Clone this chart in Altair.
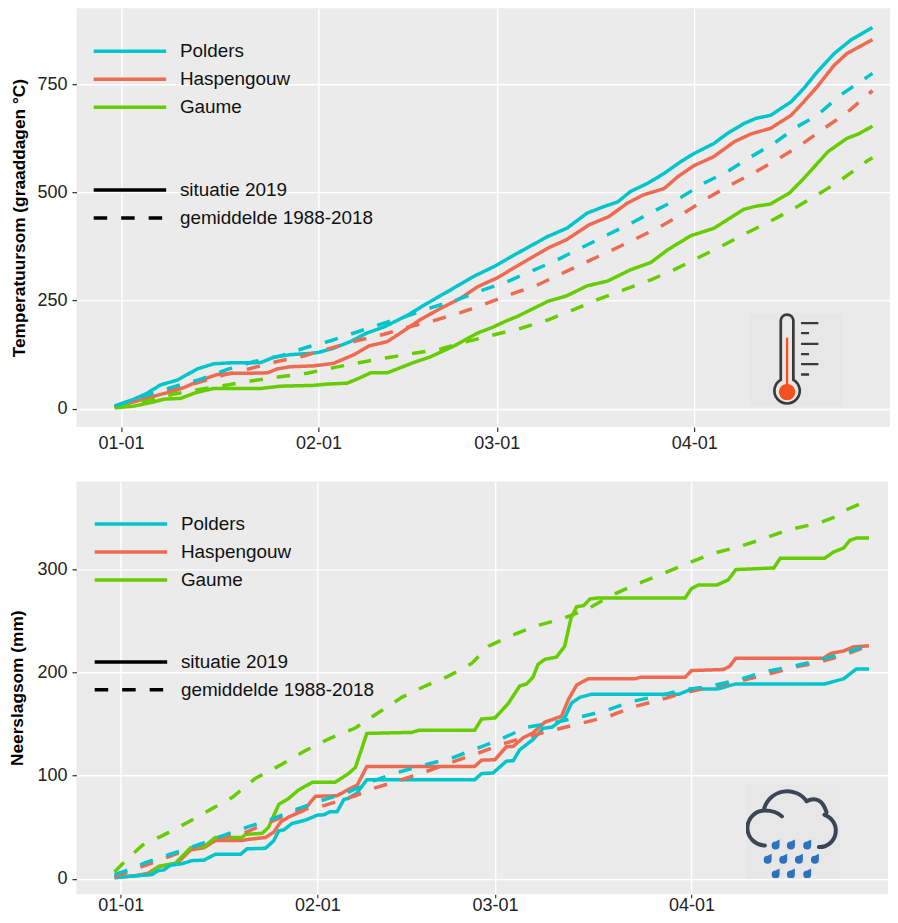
import base64
import altair as alt
import pandas as pd

REGIONS = ["Polders", "Haspengouw", "Gaume"]
COLORS = ["#00C5CD", "#EE6A50", "#66CD00"]
KINDS = ["situatie 2019", "gemiddelde 1988-2018"]

# ---- Temperatuursom: day offset from 1 January, value in graaddagen
T_POL_D = [-1, 2, 4, 6.2, 8.8, 12, 14.6, 17.2, 19.8, 22, 24, 26.6, 29.8, 31, 33.4, 36, 38.6, 41.3, 45, 48, 51.7, 55.4, 58.5, 62.2, 67, 70, 73.2, 75.8, 78, 80, 82.7, 85.3, 87.9, 90, 93.1, 95.2, 97.8, 99.7, 102, 105.2, 107.2, 109.3, 112, 114.6, 118]
T_POL_V = [6, 22, 35, 55, 66, 92, 104, 106, 106, 107, 119, 125, 128, 130, 140, 155, 175, 189, 216, 243, 274, 306, 328, 359, 398, 417, 452, 467, 478, 502, 521, 544, 571, 590, 613, 636, 659, 671, 678, 709, 740, 778, 821, 852, 881]
T_HAS_D = [-1, 2, 5.2, 7.8, 9.9, 12.5, 15.1, 17.7, 20.3, 23, 24.5, 26.6, 30.3, 33.4, 36.6, 38.9, 41.8, 44.4, 47, 50.2, 53.3, 56, 59, 62, 67, 70, 73.5, 76.6, 79.5, 82, 85.3, 87.4, 90, 93, 96.3, 98.9, 102, 105.2, 107.2, 109.3, 112, 114, 118]
T_HAS_V = [3, 16, 29, 39, 49, 66, 79, 82, 82, 83, 92, 97, 99, 105, 125, 145, 155, 180, 206, 232, 255, 282, 302, 328, 371, 391, 425, 444, 475, 494, 509, 536, 562, 582, 617, 635, 648, 678, 709, 744, 794, 821, 853]
T_GAU_D = [-1, 2, 4.6, 6.7, 9.4, 11.7, 14.6, 17.7, 22, 25, 30.3, 32.4, 35.5, 37.6, 39.2, 41.8, 46, 48.6, 52.3, 56, 58.5, 60.2, 62.2, 67, 70, 73.2, 76.4, 80, 83.2, 85.8, 89.5, 93.1, 97.8, 99.7, 102, 105, 107.2, 111, 114, 115.8, 118]
T_GAU_V = [2, 6, 14, 22, 24, 37, 47, 47, 47, 52, 54, 57, 59, 72, 83, 83, 107, 120, 145, 175, 189, 201, 213, 248, 261, 284, 295, 321, 338, 367, 400, 417, 461, 468, 473, 499, 532, 594, 625, 635, 653]
T_POL_AVG_D = [-1, 3.6, 8.3, 12.5, 16.7, 20.9, 25, 29.2, 32.9, 36.6, 40.7, 44.4, 48.6, 52.8, 57, 60.7, 64.3, 68.5, 72.7, 76.4, 80, 84, 87.9, 91.5, 95.2, 98.9, 102.5, 106.2, 109.3, 113, 117.2, 118]
T_POL_AVG_V = [6, 29, 51, 68, 91, 109, 122, 142, 157, 175, 195, 212, 233, 252, 275, 294, 317, 344, 375, 402, 428, 459, 488, 521, 548, 582, 613, 652, 678, 725, 767, 775]
T_HAS_AVG_D = [-1, 3.6, 8.3, 12.5, 16.1, 20.3, 24.5, 28.7, 32.9, 37, 41.3, 45.4, 49, 53.3, 57.5, 61.7, 65.4, 69.3, 73.2, 76.9, 81, 84.7, 88.4, 92, 95.7, 99.7, 103.3, 106.7, 110.4, 113.8, 118]
T_HAS_AVG_V = [4, 24, 45, 62, 78, 93, 109, 122, 140, 157, 172, 190, 203, 222, 244, 267, 286, 313, 340, 365, 394, 421, 452, 486, 517, 548, 578, 609, 648, 682, 735]
T_GAU_AVG_D = [-1, 4.1, 8.3, 12.5, 16.7, 20.9, 25, 29.2, 33.4, 37.6, 41.8, 46, 50.2, 54.3, 58.6, 62.8, 67, 70.9, 74.8, 79, 83.2, 86.8, 90.5, 94.2, 98.1, 101.8, 105.7, 109.3, 112.7, 117.2, 118]
T_GAU_AVG_V = [3, 18, 34, 45, 55, 65, 74, 82, 95, 107, 118, 128, 138, 155, 171, 186, 205, 228, 252, 275, 298, 321, 348, 375, 405, 432, 463, 494, 525, 573, 580]

# ---- Neerslagsom: day offset from 1 January, value in mm
N_POL_D = [-1, 1.8, 4.9, 6, 6.8, 7.8, 9.7, 11.2, 13.1, 14.9, 18.9, 19.9, 22.8, 24.1, 24.9, 25.7, 27, 29.1, 31, 32, 33, 34.1, 35.2, 35.9, 37.2, 38.8, 55.8, 56.9, 58.7, 60.8, 61.9, 62.9, 65, 66.6, 68, 70, 71.1, 72.4, 74.2, 88, 90, 94, 97, 111, 114, 116, 118]
N_POL_V = [1, 2.6, 4, 8, 8.5, 13, 14.6, 17.5, 18, 23.7, 23.7, 29, 29.5, 36.7, 46.4, 47.4, 53.6, 56.8, 61.7, 62, 65, 65, 77, 78, 83, 96, 96, 102, 102.6, 114, 114.6, 125, 135, 146, 147, 156, 170.6, 176, 179, 179, 184, 184, 189, 189, 194, 203.5, 203.5]
N_HAS_D = [-1, 1.8, 4.2, 6, 8.9, 11, 13.1, 14.9, 19.1, 19.9, 22.8, 24.1, 25.2, 26.5, 28.8, 30.7, 34.1, 35.7, 37.3, 38.8, 55.8, 56.9, 59, 60.8, 61.9, 63.5, 65, 66.9, 69.5, 70.6, 71.9, 73.7, 75.3, 81, 82, 89, 90, 95, 96, 97, 110.8, 112, 114, 115.5, 118]
N_HAS_V = [1, 2.6, 5, 11.7, 15, 28, 30, 37, 37, 38, 40, 45, 55, 60, 66, 80, 80.5, 86, 91, 109, 109, 115, 115.5, 128, 128.5, 137, 141.5, 152, 157.6, 174, 188, 194, 194, 194, 195.5, 195.5, 202, 203, 206, 214, 214, 218.7, 221, 225, 226]
N_GAU_D = [-1, 1.8, 4.4, 6, 8.6, 11, 13.1, 14.9, 19.1, 19.7, 22.3, 23.3, 24.9, 26.5, 28, 30.2, 33.8, 35.9, 37, 38.8, 45.9, 47, 55.8, 56.9, 59, 61.1, 62.9, 64, 65, 65.8, 66.9, 68.7, 70, 71, 71.9, 73, 74, 75.3, 89, 90, 91.1, 94, 95.8, 97, 103, 104, 111, 112.4, 114, 115, 116, 118]
N_GAU_V = [2, 2.5, 4, 12, 15, 30, 31, 40, 40, 43, 44, 50, 72, 78, 86, 93.5, 93.5, 102, 108, 141, 142, 144, 144, 155, 156, 170, 187, 189, 195.5, 208, 213, 215, 225.5, 253, 264, 265, 271.5, 272.5, 272.5, 281.6, 285, 285, 290, 300, 301.6, 311, 311, 317, 321, 328.4, 330.6, 330.6]
N_POL_AVG_D = [-1, 0.7, 3.9, 7.8, 11.8, 16, 19.9, 23.9, 28, 31.7, 35.9, 39, 43, 48, 52.2, 56.4, 60, 64, 68, 72.5, 76.4, 80.6, 84.5, 88.5, 92.7, 97.4, 101.6, 106, 110, 114, 118]
N_POL_AVG_V = [4, 7.5, 15.6, 23.7, 32, 41.6, 50, 58, 68, 76, 84, 93, 102, 110.7, 117, 127, 135.6, 147, 151, 157, 163, 172, 177, 183, 186.5, 193, 201, 206, 212, 218.7, 227]
N_HAS_AVG_D = [-1, 3.9, 7.8, 11.8, 16, 19.7, 23.3, 28, 32.3, 37, 40, 44.3, 48.2, 52.2, 56.4, 60.3, 64.3, 68.5, 72.7, 76.9, 81, 85, 89, 93.2, 97, 101.6, 106, 110, 114, 118]
N_HAS_AVG_V = [2, 13, 22, 31, 40, 45, 54.5, 66, 71.4, 80.5, 88, 96, 104, 113, 122, 131, 138, 144.6, 151, 157.4, 167, 173.5, 180.6, 186.5, 191, 197.7, 205, 209.7, 217, 226]
N_GAU_AVG_D = [-1, 0.2, 2.6, 3.4, 6.5, 10.5, 14.4, 17.6, 21.2, 25.4, 29, 32.8, 36.9, 40.6, 44.3, 48, 51.6, 55.3, 58, 61.6, 65.6, 69.5, 73.7, 77.4, 81, 85.3, 89, 93, 97.4, 101.4, 105.3, 110, 112.6, 114.2, 118]
N_GAU_AVG_V = [6.5, 14, 28, 32.5, 41.6, 54.5, 68, 79, 97.4, 111, 124, 135.7, 146, 161, 176, 187, 196.4, 208.7, 225.6, 236, 245.6, 252, 262, 275, 285, 295.5, 305, 315, 322, 330, 338.7, 345, 351, 357.4, 367.5]


def stamp(d):
    return (pd.Timestamp("2019-01-01") + pd.Timedelta(days=d)).strftime("%Y-%m-%dT%H:%M:%SZ")


def frame(rows):
    out = []
    for region, kind, days, vals in rows:
        for d, v in zip(days, vals):
            out.append({"datum": stamp(d), "waarde": v, "regio": region, "soort": kind})
    return pd.DataFrame(out)


temp = frame([
    ("Haspengouw", KINDS[0], T_HAS_D, T_HAS_V),
    ("Gaume", KINDS[0], T_GAU_D, T_GAU_V),
    ("Polders", KINDS[0], T_POL_D, T_POL_V),
    ("Haspengouw", KINDS[1], T_HAS_AVG_D, T_HAS_AVG_V),
    ("Gaume", KINDS[1], T_GAU_AVG_D, T_GAU_AVG_V),
    ("Polders", KINDS[1], T_POL_AVG_D, T_POL_AVG_V),
])
rain = frame([
    ("Haspengouw", KINDS[0], N_HAS_D, N_HAS_V),
    ("Gaume", KINDS[0], N_GAU_D, N_GAU_V),
    ("Polders", KINDS[0], N_POL_D, N_POL_V),
    ("Haspengouw", KINDS[1], N_HAS_AVG_D, N_HAS_AVG_V),
    ("Gaume", KINDS[1], N_GAU_AVG_D, N_GAU_AVG_V),
    ("Polders", KINDS[1], N_POL_AVG_D, N_POL_AVG_V),
])


def uri(body):
    svg = f'<svg xmlns="http://www.w3.org/2000/svg" viewBox="0 0 94 94" width="94" height="94">{body}</svg>'
    return "data:image/svg+xml;base64," + base64.b64encode(svg.encode()).decode()


tick_y = [(10.3, 69.3), (20.3, 60), (31, 69.3), (41.3, 60), (51.3, 69.3), (61.7, 60)]
thermo = '<rect width="94" height="94" fill="#E7E7E7"/>'
thermo += '<path d="M31.7 67V8A6.3 6.3 0 0 1 44.3 8V67A12.7 12.7 0 1 1 31.7 67Z" fill="none" stroke="#3A3A3A" stroke-width="2.7"/>'
thermo += '<path d="M38 25V75" stroke="#F4511E" stroke-width="2.3"/><circle cx="38" cy="79.3" r="8.2" fill="#F4511E"/>'
for y, xe in tick_y:
    thermo += f'<path d="M52 {y}H{xe}" stroke="#3A3A3A" stroke-width="2.3"/>'

cloud = '<rect width="94" height="94" fill="#E7E7E7"/>'
cloud += ('<g fill="none" stroke="#3A4654" stroke-width="4" stroke-linecap="round">'
          '<path d="M19 61A17.5 17.5 0 0 1 19 26Q30 26 36 32"/>'
          '<path d="M18.3 24A24 24 0 0 1 60.7 16.7"/>'
          '<path d="M60.7 16.7Q75 10 80.7 28"/>'
          '<path d="M78.5 30.5A16.5 16.5 0 0 1 73 62.7"/></g>')
for x, y in [(29.7, 60), (45, 60), (61.3, 60), (21.7, 74.3), (37.3, 74.3), (53, 74.3), (69, 74.3),
             (29.7, 89), (45, 89), (61.3, 89)]:
    cloud += f'<path d="M{x+4} {y-5}V{y+1}A4 4 0 1 1 {x} {y-3}Z" fill="#2B72C0"/>'


def dt(y, m, d, h=0):
    return alt.DateTime(year=y, month=m, date=d, hours=h, utc=True)


TICKS = [dt(2019, 1, 1), dt(2019, 2, 1), dt(2019, 3, 1), dt(2019, 4, 1)]
FONT = "Liberation Sans"


def panel(df, ylabel, yvalues, ydomain, xdomain, width, height, legend_x, legend_y1, legend_y2,
          icon, icon_day, icon_val, title_pad, x_label_pad, x_tick):
    x = alt.X("datum:T", title=None,
              scale=alt.Scale(type="utc", domain=xdomain),
              axis=alt.Axis(values=TICKS, labelExpr="utcFormat(datum.value, '%m-%d')", grid=True,
                            labelPadding=x_label_pad, tickSize=x_tick))
    y = alt.Y("waarde:Q", title=ylabel, scale=alt.Scale(domain=ydomain, nice=False, zero=False),
              axis=alt.Axis(values=yvalues, grid=True, titlePadding=title_pad, labelPadding=5))
    lines = alt.Chart(df).mark_line(strokeWidth=3.5, clip=True).encode(
        x=x, y=y,
        color=alt.Color("regio:N", scale=alt.Scale(domain=REGIONS, range=COLORS),
                        legend=alt.Legend(orient="none", legendX=legend_x, legendY=legend_y1,
                                          title=None, clipHeight=27.4, values=REGIONS)),
        strokeDash=alt.StrokeDash("soort:N",
                                  scale=alt.Scale(domain=KINDS, range=[[1, 0], [13.5, 14]]),
                                  legend=alt.Legend(orient="none", legendX=legend_x, legendY=legend_y2,
                                                    title=None, clipHeight=27.6, values=KINDS,
                                                    symbolStrokeColor="black")),
    )
    pic = alt.Chart(pd.DataFrame({"datum": [stamp(icon_day)], "waarde": [icon_val]})).mark_image(
        url=icon, width=94, height=94).encode(x=x, y=y)
    return alt.layer(pic, lines).properties(width=width, height=height)


top = panel(temp, "Temperatuursom (graaddagen °C)", [0, 250, 500, 750], [-42.3, 925.5],
            [dt(2018, 12, 25), dt(2019, 5, 1, 18)], 814, 419, 15.5, 29.4, 168,
            uri(thermo), 106, 113, 8.5, 3, 4.5)
bottom = panel(rain, "Neerslagsom (mm)", [0, 100, 200, 300], [-15, 385.6],
               [dt(2018, 12, 25), dt(2019, 5, 2)], 812, 413, 16.5, 28.9, 166.8,
               uri(cloud), 106, 45.9, 10.5, -1, 3.5)

chart = alt.concat(top, bottom, columns=1, spacing=28.4, align="none", bounds="full").resolve_scale(
    color="independent", strokeDash="independent"
).properties(
    padding={"left": -0.5, "top": 0, "right": 0, "bottom": -1}
).configure(font=FONT).configure_view(fill="#EBEBEB", stroke=None).configure_axis(
    gridColor="#FFFFFF", gridWidth=1.4, gridOpacity=1, domain=False,
    tickColor="#333333", tickSize=4.5, tickWidth=1.2,
    labelColor="#222222", labelFont=FONT, labelFontSize=18,
    titleColor="#000000", titleFont=FONT, titleFontSize=17.3, titleFontWeight="bold",
).configure_legend(
    symbolType="stroke", symbolSize=5256, symbolStrokeWidth=3.5, labelFont=FONT, labelFontSize=18.9,
    labelColor="#111111", labelOffset=12, rowPadding=0, padding=0, labelLimit=400,
)
chart.save("out.html", embed_options={"renderer": "svg", "actions": False})
